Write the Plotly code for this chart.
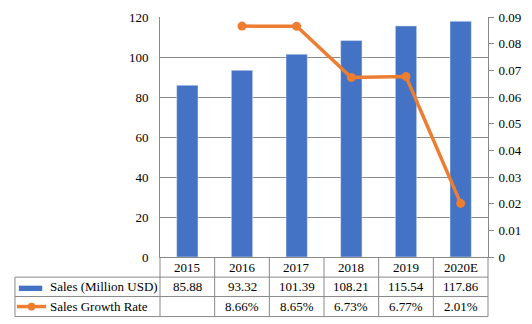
import plotly.graph_objects as go

# Chart data
years = ["2015", "2016", "2017", "2018", "2019", "2020E"]
sales = [85.88, 93.32, 101.39, 108.21, 115.54, 117.86]          # Million USD
growth = [None, 0.0866, 0.0865, 0.0673, 0.0677, 0.0201]          # growth rate (fraction)
left_ticks = [0, 20, 40, 60, 80, 100, 120]
right_ticks = [0, 0.01, 0.02, 0.03, 0.04, 0.05, 0.06, 0.07, 0.08, 0.09]
row_labels = ["Sales (Million USD)", "Sales Growth Rate"]

BLUE = "#4472C4"
ORANGE = "#ED7D31"
GRID = "#898989"
FONT = "Liberation Serif"

W, H = 532, 324
L, R, T, B = 160, 35, 10, 67
pw, ph = W - L - R, H - T - B


def px_x(x):
    return (x - L) / pw


def px_y(y):
    return (H - B - y) / ph


fig = go.Figure()
fig.add_trace(go.Bar(x=years, y=sales, marker_color=BLUE, name=row_labels[0],
                     yaxis="y"))
fig.add_trace(go.Scatter(x=years, y=growth, mode="lines+markers", name=row_labels[1],
                         line=dict(color=ORANGE, width=3.5),
                         marker=dict(color=ORANGE, size=9), yaxis="y2",
                         connectgaps=False))

shapes = []
annotations = []
line_style = dict(color=GRID, width=1)
text_font = dict(family=FONT, size=13, color="#000")

# Data table below the plot
row_y = [257, 277.7, 297.7, 318.3]
table_left = 11
for y in row_y[1:]:
    shapes.append(dict(type="line", xref="paper", yref="paper",
                       x0=px_x(table_left), x1=1, y0=px_y(y), y1=px_y(y), line=line_style))
shapes.append(dict(type="line", xref="paper", yref="paper",
                   x0=px_x(table_left), x1=px_x(table_left),
                   y0=px_y(row_y[1]), y1=px_y(row_y[3]), line=line_style))
n = len(years)
for i in range(n + 1):
    shapes.append(dict(type="line", xref="paper", yref="paper",
                       x0=i / n, x1=i / n, y0=0, y1=px_y(row_y[3]), line=line_style))

row_centers = [(row_y[k] + row_y[k + 1]) / 2 for k in range(3)]
for i, yr in enumerate(years):
    xc = (i + 0.5) / n
    annotations.append(dict(xref="paper", yref="paper", x=xc, y=px_y(row_centers[0]),
                            text=yr, showarrow=False, xanchor="center", yanchor="middle",
                            font=text_font))
    annotations.append(dict(xref="paper", yref="paper", x=xc, y=px_y(row_centers[1]),
                            text=f"{sales[i]:.2f}", showarrow=False, xanchor="center",
                            yanchor="middle", font=text_font))
    if growth[i] is not None:
        annotations.append(dict(xref="paper", yref="paper", x=xc, y=px_y(row_centers[2]),
                                text=f"{growth[i] * 100:.2f}%", showarrow=False,
                                xanchor="center", yanchor="middle", font=text_font))

# Row legend keys
shapes.append(dict(type="rect", xref="paper", yref="paper",
                   x0=px_x(15), x1=px_x(39), y0=px_y(292), y1=px_y(286.5),
                   fillcolor=BLUE, line=dict(width=0)))
shapes.append(dict(type="line", xref="paper", yref="paper",
                   x0=px_x(13), x1=px_x(43), y0=px_y(308), y1=px_y(308),
                   line=dict(color=ORANGE, width=3.5)))
shapes.append(dict(type="circle", xref="paper", yref="paper",
                   x0=px_x(24), x1=px_x(32), y0=px_y(312), y1=px_y(304),
                   fillcolor=ORANGE, line=dict(width=0)))
for k, lab in enumerate(row_labels):
    annotations.append(dict(xref="paper", yref="paper", x=px_x(45), y=px_y(row_centers[k + 1]),
                            text=lab, showarrow=False, xanchor="left", yanchor="middle",
                            font=text_font))

fig.update_layout(
    width=W, height=H,
    margin=dict(l=L, r=R, t=T, b=B, pad=0),
    paper_bgcolor="white", plot_bgcolor="white",
    showlegend=False, bargap=0.61,
    font=text_font,
    xaxis=dict(type="category", range=[-0.5, n - 0.5], showticklabels=False,
               showgrid=False, ticks="", showline=True, linecolor=GRID, linewidth=1,
               zeroline=False),
    yaxis=dict(range=[0, 120], tickvals=left_ticks, showgrid=True, gridcolor=GRID,
               gridwidth=1, showline=True, linecolor=GRID, linewidth=1, ticks="",
               zeroline=False, ticklabelstandoff=8, tickfont=text_font),
    yaxis2=dict(range=[0, 0.09], tickvals=right_ticks, overlaying="y", side="right",
                showgrid=False, showline=True, linecolor=GRID, linewidth=1,
                ticks="outside", ticklen=5, tickcolor=GRID, zeroline=False,
                ticklabelstandoff=2, tickfont=text_font),
    shapes=shapes, annotations=annotations, hovermode=False,
)

fig.write_html("out.html")
